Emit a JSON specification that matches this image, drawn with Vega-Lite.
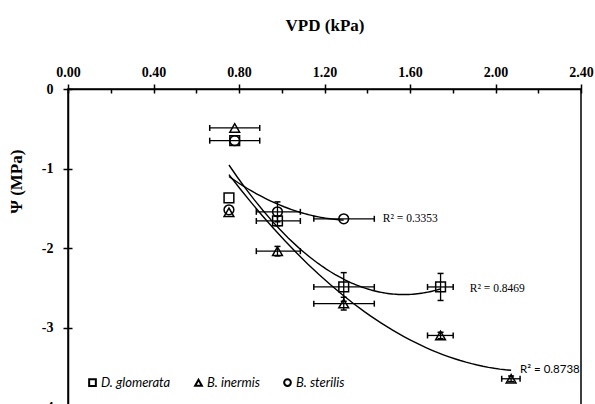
{
  "$schema": "https://vega.github.io/schema/vega-lite/v6.json",
  "width": 513,
  "height": 318,
  "autosize": {"type": "none"},
  "padding": {"left": 68, "top": 89, "right": 14, "bottom": 0},
  "background": "white",
  "config": {
    "view": {"stroke": "black", "strokeWidth": 1.5},
    "axis": {"grid": false, "domainColor": "black", "tickColor": "black", "labelColor": "black", "titleColor": "black"}
  },
  "datasets": {
    "pts": [
      {"species": "D. glomerata", "v": 0.78, "psi": -0.65, "xlo": 0.663, "xhi": 0.897, "ylo": null, "yhi": null},
      {"species": "D. glomerata", "v": 0.753, "psi": -1.37, "xlo": null, "xhi": null, "ylo": null, "yhi": null},
      {"species": "D. glomerata", "v": 0.98, "psi": -1.66, "xlo": 0.881, "xhi": 1.087, "ylo": -1.72, "yhi": -1.6},
      {"species": "D. glomerata", "v": 1.29, "psi": -2.49, "xlo": 1.15, "xhi": 1.433, "ylo": -2.67, "yhi": -2.31},
      {"species": "D. glomerata", "v": 1.743, "psi": -2.49, "xlo": 1.682, "xhi": 1.802, "ylo": -2.66, "yhi": -2.32},
      {"species": "B. inermis", "v": 0.78, "psi": -0.49, "xlo": 0.663, "xhi": 0.897, "ylo": null, "yhi": null},
      {"species": "B. inermis", "v": 0.753, "psi": -1.55, "xlo": null, "xhi": null, "ylo": null, "yhi": null},
      {"species": "B. inermis", "v": 0.98, "psi": -2.04, "xlo": 0.881, "xhi": 1.087, "ylo": -2.1, "yhi": -1.98},
      {"species": "B. inermis", "v": 1.29, "psi": -2.7, "xlo": 1.15, "xhi": 1.433, "ylo": -2.78, "yhi": -2.62},
      {"species": "B. inermis", "v": 1.743, "psi": -3.1, "xlo": 1.682, "xhi": 1.802, "ylo": -3.14, "yhi": -3.06},
      {"species": "B. inermis", "v": 2.073, "psi": -3.645, "xlo": 2.029, "xhi": 2.115, "ylo": -3.68, "yhi": -3.61},
      {"species": "B. sterilis", "v": 0.78, "psi": -0.65, "xlo": null, "xhi": null, "ylo": null, "yhi": null},
      {"species": "B. sterilis", "v": 0.753, "psi": -1.52, "xlo": null, "xhi": null, "ylo": null, "yhi": null},
      {"species": "B. sterilis", "v": 0.98, "psi": -1.545, "xlo": 0.881, "xhi": 1.087, "ylo": -1.67, "yhi": -1.42},
      {"species": "B. sterilis", "v": 1.29, "psi": -1.633, "xlo": 1.15, "xhi": 1.433, "ylo": null, "yhi": null}
    ],
    "r2": [
      {"species": "B. sterilis", "v": 1.473, "psi": -1.633, "label": "R² = 0.3353"},
      {"species": "D. glomerata", "v": 1.88, "psi": -2.51, "label": "R² = 0.8469"},
      {"species": "B. inermis", "v": 2.115, "psi": -3.53, "label": "R² = 0.8738"}
    ]
  },
  "layer": [
    {
      "data": {"name": "pts"},
      "mark": {"type": "point", "filled": false, "color": "black", "strokeWidth": 1.5, "size": 95, "opacity": 1},
      "encoding": {
        "x": {"field": "v", "type": "quantitative", "scale": {"domain": [0, 2.4], "nice": false, "zero": false},
          "axis": {"orient": "top", "values": [0, 0.4, 0.8, 1.2, 1.6, 2.0, 2.4], "format": ".2f", "labelFlush": false, "labelOverlap": false,
            "tickSize": 5, "tickWidth": 1.5, "domainWidth": 1.5, "labelFont": "Liberation Serif", "labelFontWeight": "bold", "labelFontSize": 14, "labelPadding": 5,
            "title": "VPD (kPa)", "titleFont": "Liberation Serif", "titleFontWeight": "bold", "titleFontSize": 17, "titleY": -64, "titleBaseline": "middle"}},
        "y": {"field": "psi", "type": "quantitative", "scale": {"domain": [-4, 0], "nice": false, "zero": false},
          "axis": {"values": [0, -1, -2, -3, -4], "labelExpr": "'' + datum.value", "tickSize": 5, "tickWidth": 1.5, "domainWidth": 1.5,
            "labelFont": "Liberation Serif", "labelFontWeight": "bold", "labelFontSize": 14, "labelPadding": 10,
            "title": "Ψ (MPa)", "titleFont": "Liberation Serif", "titleFontWeight": "bold", "titleFontSize": 17, "titleX": -52, "titleY": 92, "titleBaseline": "middle", "titleAlign": "center", "titleAngle": 270}},
        "shape": {"field": "species", "type": "nominal",
          "scale": {"domain": ["D. glomerata", "B. inermis", "B. sterilis"], "range": ["square", "triangle-up", "circle"]},
          "legend": {"orient": "none", "legendX": 18, "legendY": 287, "direction": "horizontal", "title": null, "padding": 0,
            "labelFont": "Lato", "labelFontStyle": "italic", "labelFontSize": 13, "labelColor": "black", "labelOffset": 2,
            "symbolSize": 45, "symbolStrokeWidth": 2, "symbolStrokeColor": "black", "symbolOpacity": 1, "columnPadding": 20}}
      }
    },
    {
      "layer": [
        {
          "data": {"name": "pts"},
          "transform": [{"regression": "psi", "on": "v", "method": "poly", "order": 2, "groupby": ["species"]}],
          "mark": {"type": "line", "stroke": "black", "strokeWidth": 1.4},
          "encoding": {
            "x": {"field": "v", "type": "quantitative", "scale": {"domain": [0, 2.4], "nice": false, "zero": false},
              "axis": {"orient": "top", "values": [0, 0.2, 0.4, 0.6, 0.8, 1.0, 1.2, 1.4, 1.6, 1.8, 2.0, 2.2, 2.4], "labels": false, "domain": false, "tickSize": -4, "tickWidth": 1.5, "title": null}},
            "y": {"field": "psi", "type": "quantitative", "scale": {"domain": [-4, 0], "nice": false, "zero": false},
              "axis": {"orient": "left", "values": [0, -0.5, -1, -1.5, -2, -2.5, -3, -3.5, -4], "labels": false, "domain": false, "tickSize": -4, "tickWidth": 1.5, "title": null}},
            "detail": {"field": "species"}
          }
        },
        {
          "data": {"name": "pts"},
          "mark": {"type": "rule", "stroke": "black", "strokeWidth": 1.3},
          "encoding": {
            "x": {"field": "xlo", "type": "quantitative", "scale": {"domain": [0, 2.4], "nice": false, "zero": false}},
            "x2": {"field": "xhi"},
            "y": {"field": "psi", "type": "quantitative", "scale": {"domain": [-4, 0], "nice": false, "zero": false}}
          }
        },
        {
          "data": {"name": "pts"},
          "mark": {"type": "rule", "stroke": "black", "strokeWidth": 1.3},
          "encoding": {
            "x": {"field": "v", "type": "quantitative", "scale": {"domain": [0, 2.4], "nice": false, "zero": false}},
            "y": {"field": "ylo", "type": "quantitative", "scale": {"domain": [-4, 0], "nice": false, "zero": false}},
            "y2": {"field": "yhi"}
          }
        },
        {
          "data": {"name": "pts"},
          "mark": {"type": "tick", "orient": "vertical", "color": "black", "size": 6, "thickness": 1.5, "opacity": 1},
          "encoding": {
            "x": {"field": "xlo", "type": "quantitative", "scale": {"domain": [0, 2.4], "nice": false, "zero": false}},
            "y": {"field": "psi", "type": "quantitative", "scale": {"domain": [-4, 0], "nice": false, "zero": false}}
          }
        },
        {
          "data": {"name": "pts"},
          "mark": {"type": "tick", "orient": "vertical", "color": "black", "size": 6, "thickness": 1.5, "opacity": 1},
          "encoding": {
            "x": {"field": "xhi", "type": "quantitative", "scale": {"domain": [0, 2.4], "nice": false, "zero": false}},
            "y": {"field": "psi", "type": "quantitative", "scale": {"domain": [-4, 0], "nice": false, "zero": false}}
          }
        },
        {
          "data": {"name": "pts"},
          "mark": {"type": "tick", "orient": "horizontal", "color": "black", "size": 6, "thickness": 1.5, "opacity": 1},
          "encoding": {
            "x": {"field": "v", "type": "quantitative", "scale": {"domain": [0, 2.4], "nice": false, "zero": false}},
            "y": {"field": "ylo", "type": "quantitative", "scale": {"domain": [-4, 0], "nice": false, "zero": false}}
          }
        },
        {
          "data": {"name": "pts"},
          "mark": {"type": "tick", "orient": "horizontal", "color": "black", "size": 6, "thickness": 1.5, "opacity": 1},
          "encoding": {
            "x": {"field": "v", "type": "quantitative", "scale": {"domain": [0, 2.4], "nice": false, "zero": false}},
            "y": {"field": "yhi", "type": "quantitative", "scale": {"domain": [-4, 0], "nice": false, "zero": false}}
          }
        },
        {
          "data": {"name": "r2"},
          "transform": [{"filter": "datum.species != 'B. inermis'"}],
          "mark": {"type": "text", "align": "left", "baseline": "middle", "font": "Liberation Serif", "fontSize": 11.5, "color": "black"},
          "encoding": {
            "x": {"field": "v", "type": "quantitative", "scale": {"domain": [0, 2.4], "nice": false, "zero": false}},
            "y": {"field": "psi", "type": "quantitative", "scale": {"domain": [-4, 0], "nice": false, "zero": false}},
            "text": {"field": "label"}
          }
        },
        {
          "data": {"name": "r2"},
          "transform": [{"filter": "datum.species == 'B. inermis'"}],
          "mark": {"type": "text", "align": "left", "baseline": "middle", "font": "Lato", "fontSize": 11.5, "color": "black"},
          "encoding": {
            "x": {"field": "v", "type": "quantitative", "scale": {"domain": [0, 2.4], "nice": false, "zero": false}},
            "y": {"field": "psi", "type": "quantitative", "scale": {"domain": [-4, 0], "nice": false, "zero": false}},
            "text": {"field": "label"}
          }
        }
      ]
    }
  ],
  "resolve": {"axis": {"x": "independent", "y": "independent"}}
}
